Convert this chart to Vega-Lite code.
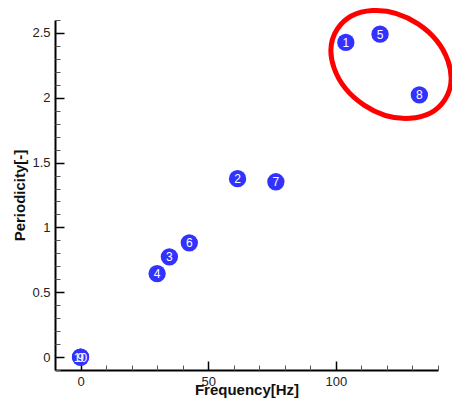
{
  "$schema": "https://vega.github.io/schema/vega-lite/v6.json",
  "width": 383,
  "height": 350,
  "autosize": {"type": "none"},
  "padding": {"left": 55, "top": 20, "right": 14, "bottom": 35},
  "background": "white",
  "config": {
    "view": {"stroke": null},
    "axis": {
      "zindex": 1,
      "grid": false,
      "domainColor": "#000000",
      "domainWidth": 2,
      "tickColor": "#000000",
      "labelFont": "Liberation Sans",
      "labelFontSize": 13,
      "labelColor": "#222222",
      "titleFont": "Liberation Sans",
      "titleFontWeight": "bold",
      "titleFontSize": 15,
      "titleColor": "#111111"
    }
  },
  "datasets": {
    "pts": [
      {"id": "1", "freq": 103.9, "per": 2.427},
      {"id": "2", "freq": 61.5, "per": 1.376},
      {"id": "3", "freq": 34.8, "per": 0.773},
      {"id": "4", "freq": 30.0, "per": 0.644},
      {"id": "5", "freq": 117.3, "per": 2.491},
      {"id": "6", "freq": 42.6, "per": 0.881},
      {"id": "7", "freq": 76.5, "per": 1.352},
      {"id": "8", "freq": 132.7, "per": 2.022},
      {"id": "9", "freq": 0, "per": 0},
      {"id": "10", "freq": 0, "per": 0}
    ],
    "ring": [
      {"freq": 121.6, "per": 2.257}
    ]
  },
  "layer": [
    {
      "data": {"name": "pts"},
      "mark": {"type": "point", "shape": "circle", "filled": true, "color": "#3232ff", "opacity": 1, "size": 300, "strokeWidth": 0},
      "encoding": {
        "x": {"field": "freq", "type": "quantitative",
          "scale": {"domain": [-10, 140], "nice": false, "zero": false},
          "axis": {"orient": "bottom", "values": [0, 50, 100], "tickSize": -9, "tickWidth": 1.5, "labelPadding": 14, "title": "Frequency[Hz]", "titleBaseline": "alphabetic", "titleY": 24, "titleAnchor": "middle"}},
        "y": {"field": "per", "type": "quantitative",
          "scale": {"domain": [-0.1, 2.6], "nice": false, "zero": false},
          "axis": {"orient": "left", "values": [0, 0.5, 1, 1.5, 2, 2.5], "format": "~g", "tickSize": -9, "tickWidth": 1.5, "labelPadding": 14, "title": "Periodicity[-]", "titleBaseline": "alphabetic", "titleX": -31, "titleY": 175, "titleAlign": "center", "titleAngle": -90}}
      }
    },
    {
      "data": {"name": "pts"},
      "mark": {"type": "text", "color": "white", "font": "Liberation Sans", "fontSize": 12, "align": "center", "baseline": "middle", "dy": 0.5},
      "encoding": {
        "x": {"field": "freq", "type": "quantitative", "axis": null},
        "y": {"field": "per", "type": "quantitative", "axis": null},
        "text": {"field": "id"}
      }
    },
    {
      "data": {"name": "ring"},
      "mark": {"type": "point", "filled": false, "stroke": "#ff0000", "strokeWidth": 5, "opacity": 1, "size": 4,
        "shape": "M 53.6 35.6 A 64.3 48.8 33.6 0 1 -27 40.6 A 64.3 48.8 33.6 0 1 -53.6 -35.6 A 64.3 48.8 33.6 0 1 27 -40.6 A 64.3 48.8 33.6 0 1 53.6 35.6 Z"},
      "encoding": {
        "x": {"field": "freq", "type": "quantitative",
          "axis": {"orient": "bottom", "values": [-10, 10, 20, 30, 40, 60, 70, 80, 90, 110, 120, 130, 140], "labels": false, "domain": false, "ticks": true, "tickSize": -5, "tickWidth": 1, "tickColor": "#555555", "title": null}},
        "y": {"field": "per", "type": "quantitative",
          "axis": {"orient": "left", "values": [-0.1, 0.1, 0.2, 0.3, 0.4, 0.6, 0.7, 0.8, 0.9, 1.1, 1.2, 1.3, 1.4, 1.6, 1.7, 1.8, 1.9, 2.1, 2.2, 2.3, 2.4, 2.6], "labels": false, "domain": false, "ticks": true, "tickSize": -5, "tickWidth": 1, "tickColor": "#555555", "title": null}}
      }
    }
  ],
  "resolve": {"axis": {"x": "independent", "y": "independent"}}
}
